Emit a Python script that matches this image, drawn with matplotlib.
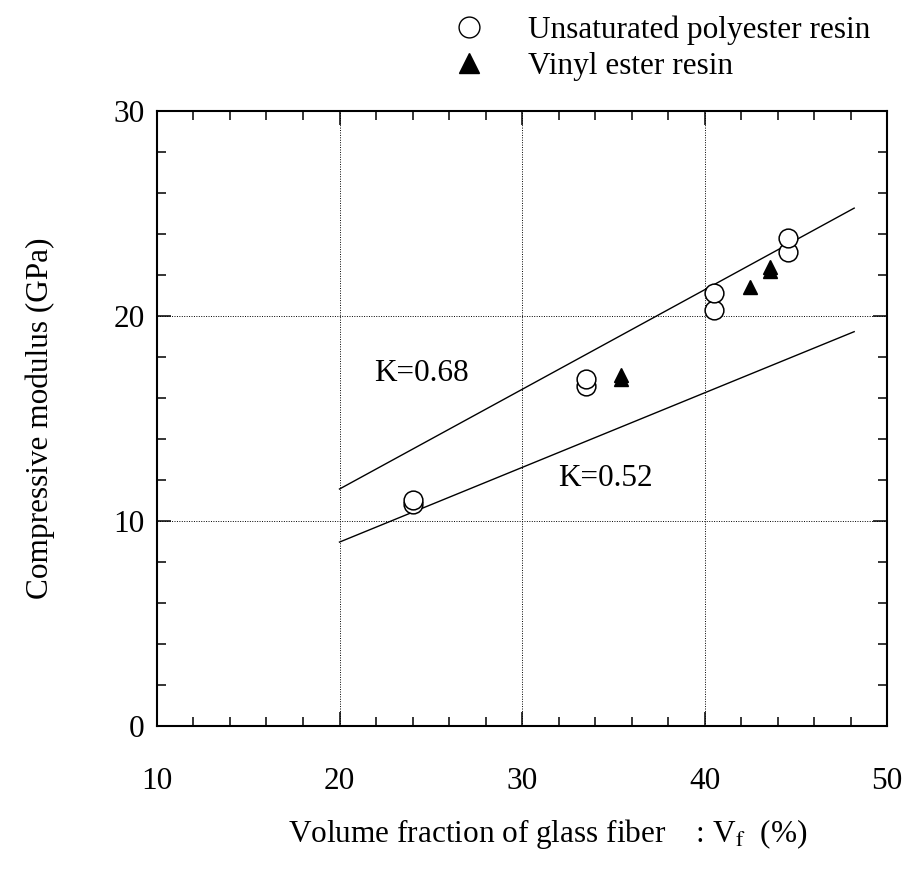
import numpy as np
import matplotlib.pyplot as plt
from matplotlib.ticker import MultipleLocator
from matplotlib.lines import Line2D

plt.rcParams['font.family'] = ['Liberation Serif', 'DejaVu Serif']
plt.rcParams['mathtext.fontset'] = 'stix'

# unsaturated polyester resin specimens
up_vf = [24.0, 24.0, 33.5, 33.5, 40.5, 40.5, 44.6, 44.6]
up_e = [10.8, 11.0, 16.6, 16.9, 20.3, 21.1, 23.1, 23.8]

# vinyl ester resin specimens
ve_vf = [35.4, 35.4, 42.5, 43.6, 43.6]
ve_e = [16.9, 17.1, 21.4, 22.2, 22.4]

# rule-of-mixtures lines with efficiency factor K
k_vf = [20.0, 48.2]
k068_e = [11.55, 25.26]
k052_e = [8.96, 19.23]

fs = 22.5

fig = plt.figure(figsize=(9.08, 8.72), dpi=100)
ax = fig.add_axes([0.1729, 0.1678, 0.804, 0.7049])

ax.plot(k_vf, k068_e, color='black', lw=1.0)
ax.plot(k_vf, k052_e, color='black', lw=1.0)

ax.plot(up_vf, up_e, ls='none', marker='o', ms=13.5, mfc='white',
        mec='black', mew=1.1, zorder=3)
ax.plot(ve_vf, ve_e, ls='none', marker='^', ms=10, mfc='black',
        mec='black', zorder=3)

ax.text(21.9, 16.8, 'K=0.68', fontsize=fs)
ax.text(32.0, 11.7, 'K=0.52', fontsize=fs)

ax.set_xlim(10, 50)
ax.set_ylim(0, 30)
ax.xaxis.set_major_locator(MultipleLocator(10))
ax.xaxis.set_minor_locator(MultipleLocator(2))
ax.yaxis.set_major_locator(MultipleLocator(10))
ax.yaxis.set_minor_locator(MultipleLocator(2))
ax.tick_params(which='both', direction='in', top=True, right=True, width=1.1)
ax.tick_params(which='major', length=10, labelsize=fs)
ax.tick_params(axis='x', which='major', pad=30)
ax.tick_params(axis='y', which='major', pad=9)
ax.tick_params(which='minor', length=6.5)
for s in ax.spines.values():
    s.set_linewidth(1.5)

ax.grid(True, which='major', color='black', lw=0.7, ls=(0, (1, 1.5)))

ax.set_xlabel('Volume fraction of glass fiber    : V$_{\\mathrm{f}}$  (%)',
              fontsize=fs)
ax.xaxis.set_label_coords(0.535, -0.148)
ax.set_ylabel('Compressive modulus (GPa)', fontsize=fs, labelpad=42)

handles = [
    Line2D([], [], ls='none', marker='o', ms=15, mfc='white', mec='black', mew=1.0),
    Line2D([], [], ls='none', marker='^', ms=15, mfc='black', mec='black'),
]
fig.legend(handles, ['Unsaturated polyester resin', 'Vinyl ester resin'],
           loc='upper left', bbox_to_anchor=(0.465, 1.014), frameon=False,
           fontsize=fs, handlelength=1.2, handletextpad=1.3, labelspacing=0.2)

fig.savefig('out.png', dpi=100)
